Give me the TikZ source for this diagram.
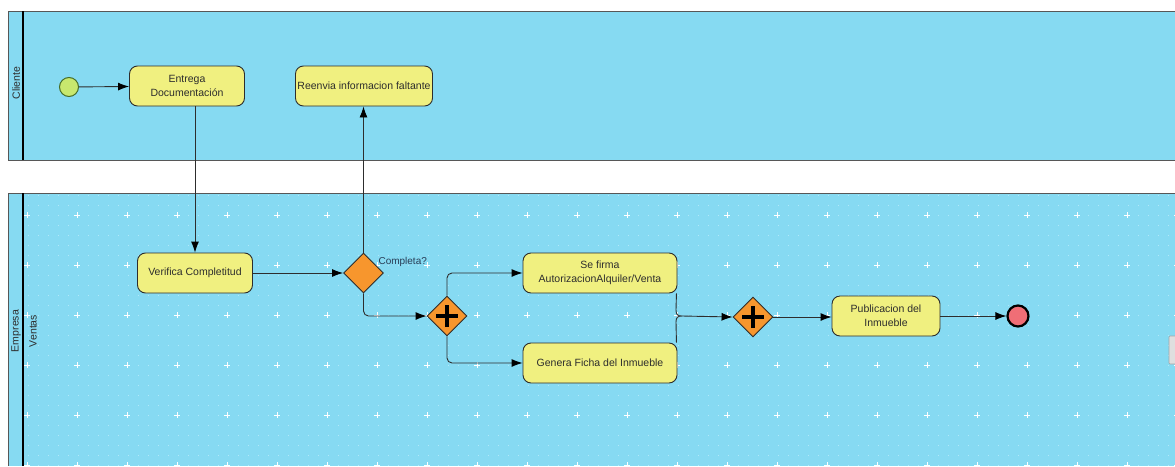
\documentclass[tikz,border=0pt]{standalone}
\usepackage{fontspec}
\setmainfont{Liberation Sans}
\usetikzlibrary{arrows.meta,shapes.geometric}
\definecolor{lane}{RGB}{134,218,242}
\definecolor{taskfill}{RGB}{240,240,128}
\definecolor{gatefill}{RGB}{247,150,45}
\definecolor{startfill}{RGB}{200,232,110}
\definecolor{startline}{RGB}{70,110,40}
\definecolor{endfill}{RGB}{240,110,118}
\definecolor{ink}{RGB}{45,45,45}
\definecolor{labelink}{RGB}{40,60,85}
\tikzset{
  txt/.style={font=\fontsize{10.5}{14}\selectfont, text=ink},
  task/.style={txt, draw=ink, line width=0.9pt, fill=taskfill, rounded corners=8pt,
    minimum width=115pt, minimum height=40pt, inner sep=2pt, align=center},
  gate/.style={diamond, draw=ink, line width=0.9pt, fill=gatefill,
    minimum width=40pt, minimum height=40pt, inner sep=0pt},
  flow/.style={draw=ink, line width=0.9pt, -{Latex[length=11pt,width=8pt,color=black]}},
  pool/.style={draw=ink!80, line width=1pt},
  header/.style={draw=black, line width=1.4pt},
  lanelabel/.style={txt, rotate=90},
  plus/.style={line width=4.5pt, black},
  gridcross/.style={white, line width=0.9pt},
  griddots/.style={white, opacity=0.4, line width=1pt, dash pattern=on 1pt off 9pt}
}
\begin{document}
\begin{tikzpicture}[x=1pt,y=-1pt]
\useasboundingbox (0,0) rectangle (1175,466);
\fill[white] (0,0) rectangle (1175,466);

% upper pool: Cliente
\fill[lane] (8,11) rectangle (1175,160);
\draw[pool] (1175,11) -- (8,11) -- (8,160) -- (1175,160);
\draw[header] (23,11) -- (23,160);
\node[lanelabel] (lblCliente) at (16,83) {Cliente};

% lower pool: Empresa / Ventas
\fill[lane] (8,193) rectangle (1175,466);
\foreach \y in {195,205,...,465} {
  \draw[griddots] (27.5,\y) -- (1175,\y);
}
\foreach \x in {27,77,...,1177} {
  \foreach \y in {215,265,...,465} {
    \draw[gridcross] (\x-3,\y) -- (\x+3,\y) (\x,\y-3) -- (\x,\y+3);
  }
}
\draw[pool] (1175,193) -- (8,193) -- (8,466);
\draw[header] (23,193) -- (23,466);
\node[lanelabel] (lblEmpresa) at (16,331) {Empresa};
\node[lanelabel] (lblVentas) at (33,331) {Ventas};

% small handle at the right edge
\draw[fill=gray!25, draw=gray!70, line width=0.6pt, rounded corners=1pt] (1169,336) rectangle (1176,364);

% events
\node[circle, draw=startline, line width=1pt, fill=startfill, minimum size=19pt, inner sep=0pt] (start) at (69,87) {};
\node[circle, draw=black, line width=2.2pt, fill=endfill, minimum size=21pt, inner sep=0pt] (end) at (1018,316) {};

% tasks
\node[task] (entrega) at (187,86) {Entrega\\Documentación};
\node[task] (reenvia) at (364,86) {Reenvia informacion faltante};
\node[task] (verifica) at (195,273) {Verifica Completitud};
\node[task, minimum width=154pt] (firma) at (600,273) {Se firma\\AutorizacionAlquiler/Venta};
\node[task, minimum width=154pt] (ficha) at (600,363) {Genera Ficha del Inmueble};
\node[task, minimum width=108pt] (publica) at (886,316) {Publicacion del\\Inmueble};

% gateways
\node[gate] (decision) at (363.5,273) {};
\node[txt, anchor=west, text=labelink, font=\fontsize{10}{12}\selectfont] (lblCompleta) at (375,262) {Completa?};
\node[gate] (split) at (447,316) {};
\draw[plus] ([xshift=-11pt]split.center) -- ([xshift=11pt]split.center)
            ([yshift=-11pt]split.center) -- ([yshift=11pt]split.center);
\node[gate] (join) at (753,317) {};
\draw[plus] ([xshift=-11pt]join.center) -- ([xshift=11pt]join.center)
            ([yshift=-11pt]join.center) -- ([yshift=11pt]join.center);

% brace gathering the two parallel tasks
\coordinate (braceTop) at (firma.south east);
\coordinate (braceBot) at (ficha.north east);
\coordinate (braceTip) at (682,316);
\draw[draw=ink, line width=0.9pt]
  ([xshift=-1pt]braceTop) -- (676,310) .. controls (676,315) and (678,316) .. (braceTip)
  .. controls (678,316) and (676,317) .. (676,322) -- ([xshift=-1pt]braceBot);

% sequence flows
\draw[flow] (start) -- (entrega);
\draw[flow] (verifica.north |- entrega.south) -- (verifica.north);
\draw[flow] (verifica) -- (decision);
\draw[flow] (decision.north) -- (reenvia.south -| decision.north);
\draw[flow, rounded corners=5pt] (decision.south) |- (split.west);
\draw[flow, rounded corners=5pt] (split.north) |- (firma.west);
\draw[flow, rounded corners=5pt] (split.south) |- (ficha.west);
\draw[flow] (braceTip) -- (join.west);
\draw[flow] (join.east) -- (publica.west |- join.east);
\draw[flow] (publica) -- (end);
\end{tikzpicture}
\end{document}
